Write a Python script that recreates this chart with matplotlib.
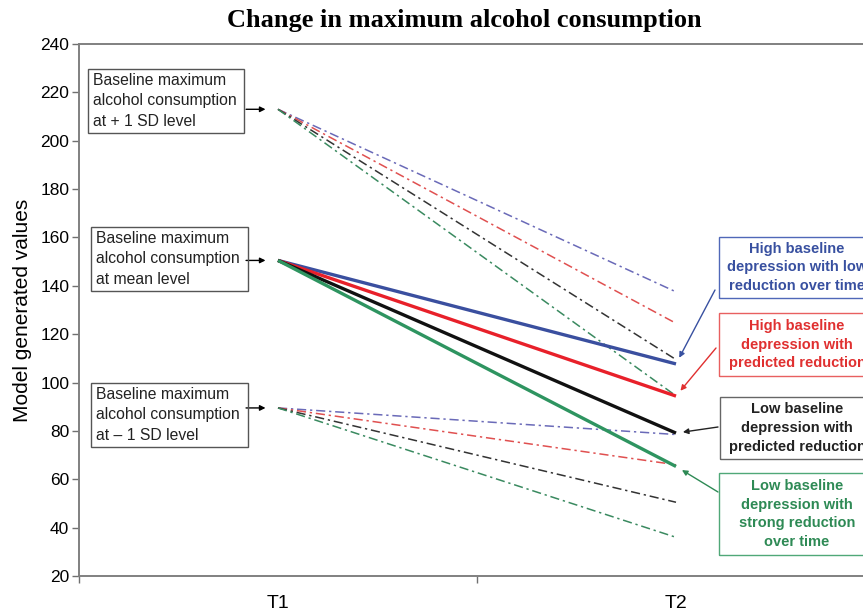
import matplotlib
matplotlib.use("Agg")
import matplotlib.pyplot as plt
from matplotlib.patches import Rectangle

plt.rcParams['font.family'] = ['Liberation Sans', 'DejaVu Sans']

# time points
times = ['T1', 'T2']

# baseline alcohol consumption at T1 (+1 SD, mean, -1 SD)
plus_sd_t1 = 213
mean_t1 = 150.5
minus_sd_t1 = 89.5

# groups: high dep/low reduction, high dep/predicted, low dep/predicted, low dep/strong reduction
plus_sd_t2 = [137.5, 124.5, 109.5, 94.5]
mean_t2 = [107.7, 94.4, 79.1, 65.3]
minus_sd_t2 = [78.5, 66.0, 50.5, 36.0]

solid_colors = ['#3a4f9f', '#e8202a', '#111111', '#2e9460']
dash_colors = ['#6a6ab8', '#e05050', '#333333', '#3a8a60']
text_colors = ['#3850a0', '#e03030', '#222222', '#2e8a55']
edge_colors = ['#5068b8', '#e86060', '#666666', '#50a878']

group_labels = [
    'High baseline\ndepression with low\nreduction over time',
    'High baseline\ndepression with\npredicted reduction',
    'Low baseline\ndepression with\npredicted reduction',
    'Low baseline\ndepression with\nstrong reduction\nover time',
]
level_labels = [
    'Baseline maximum\nalcohol consumption\nat + 1 SD level',
    'Baseline maximum\nalcohol consumption\nat mean level',
    'Baseline maximum\nalcohol consumption\nat \u2013 1 SD level',
]

W, H = 863, 611


def fxy(x, y):
    # pixel position (from top-left) -> figure fraction
    return x / W, 1 - y / H


fig = plt.figure(figsize=(W / 100, H / 100), dpi=100)
ax = fig.add_axes([79 / W, 35 / H, 796 / W, 532 / H])

xs = [0, 1]
for i in range(4):
    ax.plot(xs, [plus_sd_t1, plus_sd_t2[i]], color=dash_colors[i], lw=1.1,
            linestyle=(0, (6, 2.5, 1.5, 2.5)))
    ax.plot(xs, [minus_sd_t1, minus_sd_t2[i]], color=dash_colors[i], lw=1.1,
            linestyle=(0, (6, 2.5, 1.5, 2.5)))
for i in range(4):
    ax.plot(xs, [mean_t1, mean_t2[i]], color=solid_colors[i], lw=2.4,
            solid_capstyle='butt')

ax.set_xlim(-0.5, 1.5)
ax.set_ylim(20, 240)
ax.set_yticks(range(20, 241, 20))
ax.set_xticks(xs, times)
ax.set_xticks([-0.5, 0.5, 1.5], minor=True)
ax.tick_params(axis='x', which='major', length=0, labelsize=14, pad=14)
ax.tick_params(axis='x', which='minor', length=5, width=1, color='#707070',
               direction='out')
ax.tick_params(axis='y', length=5, width=1, color='#707070', labelsize=12.5,
               pad=2)
for s in ax.spines.values():
    s.set_color('#808080')
    s.set_linewidth(1.4)
ax.set_ylabel('Model generated values', fontsize=15, labelpad=6)

fig.text(*fxy(464, 21), 'Change in maximum alcohol consumption',
         family='Liberation Serif', weight='bold', fontsize=19,
         ha='center', va='center')

# boxes for baseline levels on the left
left_boxes = [(88, 69, 244, 133), (91, 227, 248, 291), (91, 383, 248, 447)]
starts = [plus_sd_t1, mean_t1, minus_sd_t1]
for (x0, y0, x1, y1), label, val in zip(left_boxes, level_labels, starts):
    fig.add_artist(Rectangle(fxy(x0, y1), (x1 - x0) / W, (y1 - y0) / H,
                             transform=fig.transFigure, fill=False,
                             edgecolor='#555555', lw=1))
    fig.text(*fxy(x0 + 5, (y0 + y1) / 2), label, fontsize=11.3,
             ha='left', va='center', linespacing=1.42, color='#222222')
    ax.annotate('', xy=(0, val), xytext=(-23, 0), textcoords='offset points',
                arrowprops=dict(arrowstyle='-|>', color='black', lw=1,
                                shrinkA=0, shrinkB=9, mutation_scale=8))

# boxes for the depression groups on the right
right_boxes = [(719, 237, 875, 298), (719, 313, 875, 376),
               (720, 397, 876, 459), (719, 473, 875, 555)]
arrow_starts = [(715, 290), (716, 348), (718, 427), (718, 492)]
for i, (x0, y0, x1, y1) in enumerate(right_boxes):
    fig.add_artist(Rectangle(fxy(x0, y1), (x1 - x0) / W, (y1 - y0) / H,
                             transform=fig.transFigure, fill=False,
                             edgecolor=edge_colors[i], lw=1))
    fig.text(*fxy(797, (y0 + y1) / 2), group_labels[i], fontsize=10.5,
             weight='bold', color=text_colors[i], ha='center', va='center',
             linespacing=1.42)
    sx, sy = arrow_starts[i]
    ax.annotate('', xy=(1, mean_t2[i]), xytext=(sx, H - sy),
                textcoords='figure pixels',
                arrowprops=dict(arrowstyle='-|>', color=text_colors[i], lw=1,
                                shrinkA=0, shrinkB=5, mutation_scale=8))

fig.savefig('out.png', dpi=100)
